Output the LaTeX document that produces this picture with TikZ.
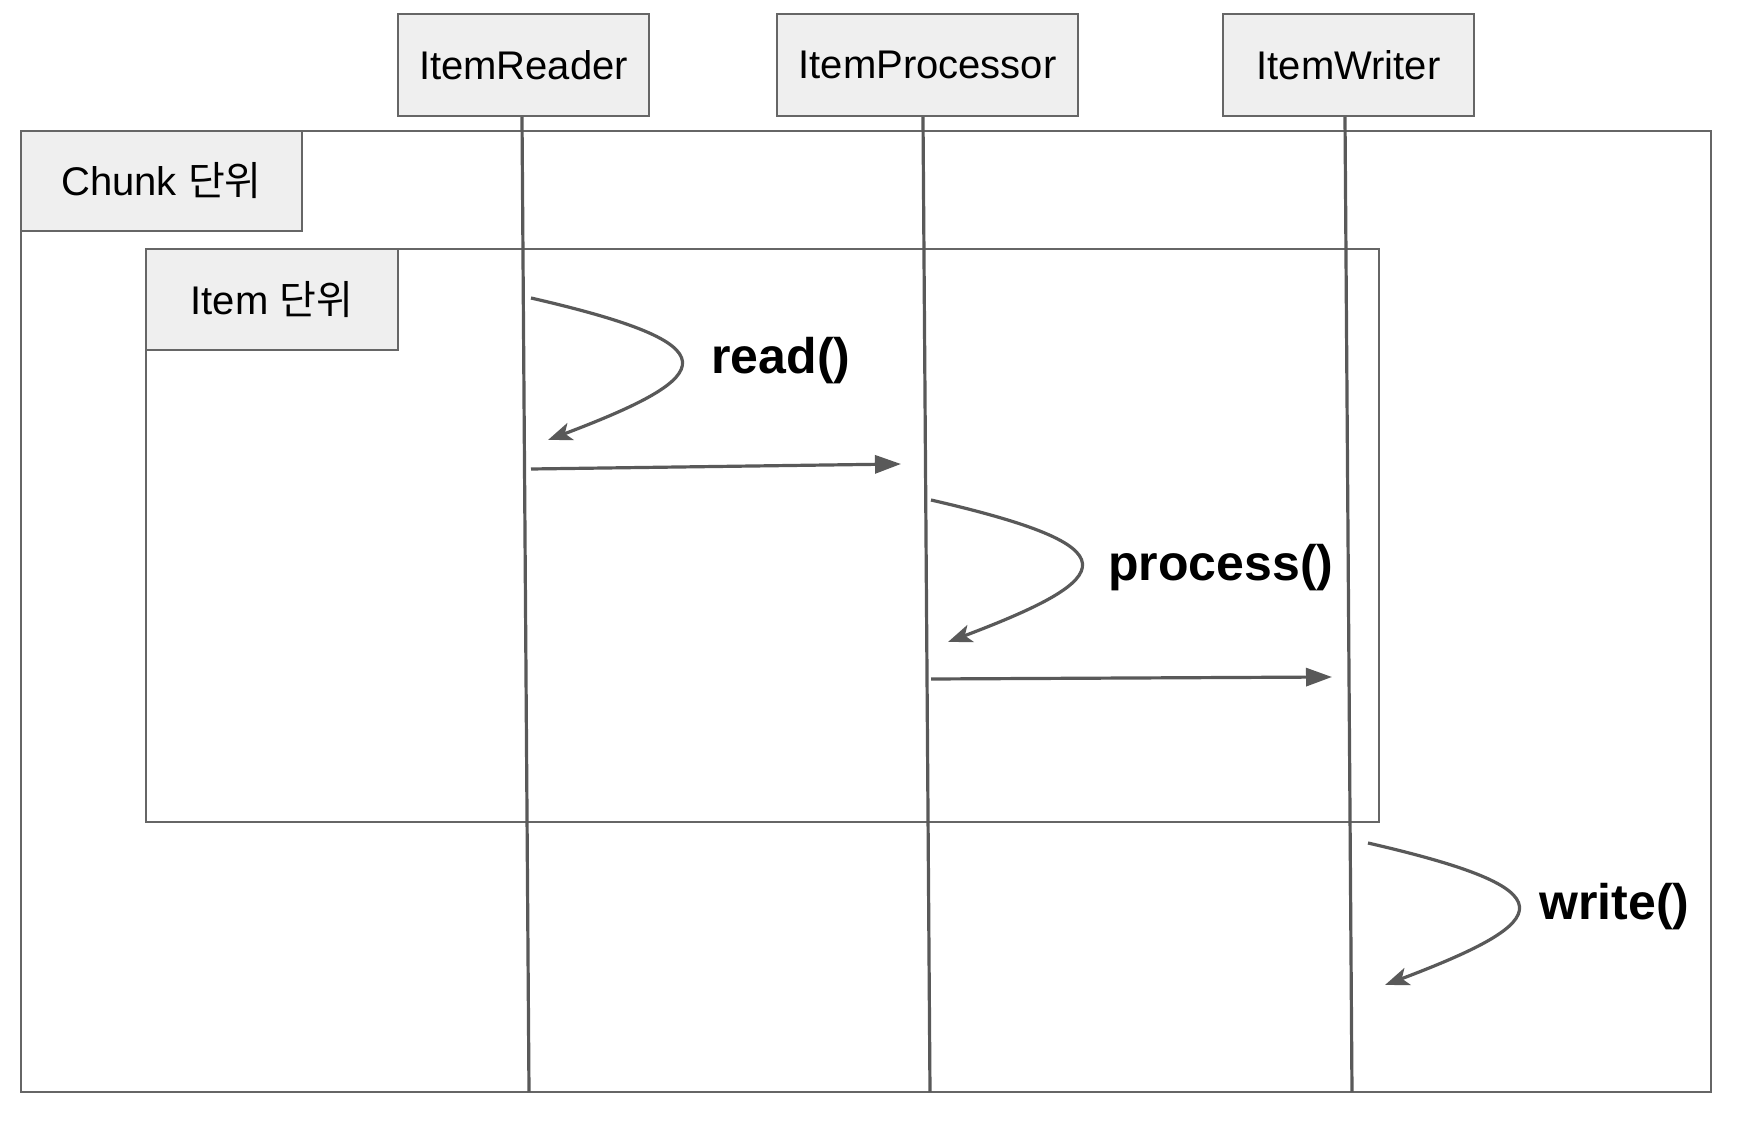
\documentclass[tikz,border=0pt]{standalone}
\usepackage{fontspec}
\setmainfont{Liberation Sans}
\newfontfamily\krfont{Noto Sans CJK KR}
\usetikzlibrary{arrows.meta}
\definecolor{linegray}{HTML}{595959}
\definecolor{framegray}{HTML}{666666}
\definecolor{boxfill}{HTML}{EFEFEF}

\begin{document}
\begin{tikzpicture}[x=0.5pt,y=0.5pt,yscale=-1,xscale=1,
  frame/.style={draw=framegray, line width=1pt},
  headbox/.style={draw=framegray, fill=boxfill, line width=1pt, minimum height=51pt, inner sep=0pt, font=\fontsize{20}{24}\selectfont},
  labelbox/.style={draw=framegray, fill=boxfill, line width=1pt, inner sep=0pt, font=\fontsize{20}{24}\selectfont},
  lifeline/.style={draw=linegray, line width=1.6pt},
  selfcall/.style={draw=linegray, line width=1.6pt, -{Stealth[length=12pt, width=9pt, inset=3pt]}},
  message/.style={draw=linegray, line width=1.6pt, -{Triangle[length=13pt, width=9pt]}},
  calllabel/.style={anchor=west, inner sep=0pt, font=\bfseries\fontsize{25}{30}\selectfont}]
\useasboundingbox (0,0) rectangle (1742,1122);

%Frames
\draw[frame] (21,131) rectangle (1711,1092);
\draw[frame] (146,249) rectangle (1379,822);

% Frame labels
\node[labelbox, minimum width=140.5pt, minimum height=50pt] (chunk) at (161.5,181) {Chunk {\krfont 단위}};
\node[labelbox, minimum width=126pt, minimum height=50.5pt] (item) at (272,299.5) {Item {\krfont 단위}};

% Lifeline ends
\coordinate (readerEnd) at (529,1092);
\coordinate (processorEnd) at (930,1092);
\coordinate (writerEnd) at (1352,1092);

% Participants
\node[headbox, minimum width=125.5pt] (reader) at (523.5,65) {ItemReader};
\node[headbox, minimum width=150.5pt] (processor) at (927.5,65) {ItemProcessor};
\node[headbox, minimum width=125.5pt] (writer) at (1348.5,65) {ItemWriter};

%Lifelines
\draw[lifeline] ([xshift=-0.75pt]reader.south) -- (readerEnd);
\draw[lifeline] ([xshift=-2.25pt]processor.south) -- (processorEnd);
\draw[lifeline] ([xshift=-1.75pt]writer.south) -- (writerEnd);

%Self calls
\coordinate (readFrom) at (531,298);
\coordinate (readTo) at (548,440);
\draw[selfcall] (readFrom) .. controls (735,345) and (720,375) .. (readTo);
\coordinate (processFrom) at (931,500);
\coordinate (processTo) at (948,642);
\draw[selfcall] (processFrom) .. controls (1135,547) and (1120,577) .. (processTo);
\coordinate (writeFrom) at (1368,843);
\coordinate (writeTo) at (1385,985);
\draw[selfcall] (writeFrom) .. controls (1572,890) and (1557,920) .. (writeTo);

%Messages
\coordinate (readOut) at (531,469);
\coordinate (processIn) at (901,464);
\draw[message] (readOut) -- (processIn);
\coordinate (processOut) at (931,679);
\coordinate (writeIn) at (1332,677);
\draw[message] (processOut) -- (writeIn);

% Text Node
\node[calllabel] (readLabel) at (711,361) {read()};
% Text Node
\node[calllabel] (processLabel) at (1108,568) {process()};
% Text Node
\node[calllabel] (writeLabel) at (1539,907) {write()};

\end{tikzpicture}
\end{document}
